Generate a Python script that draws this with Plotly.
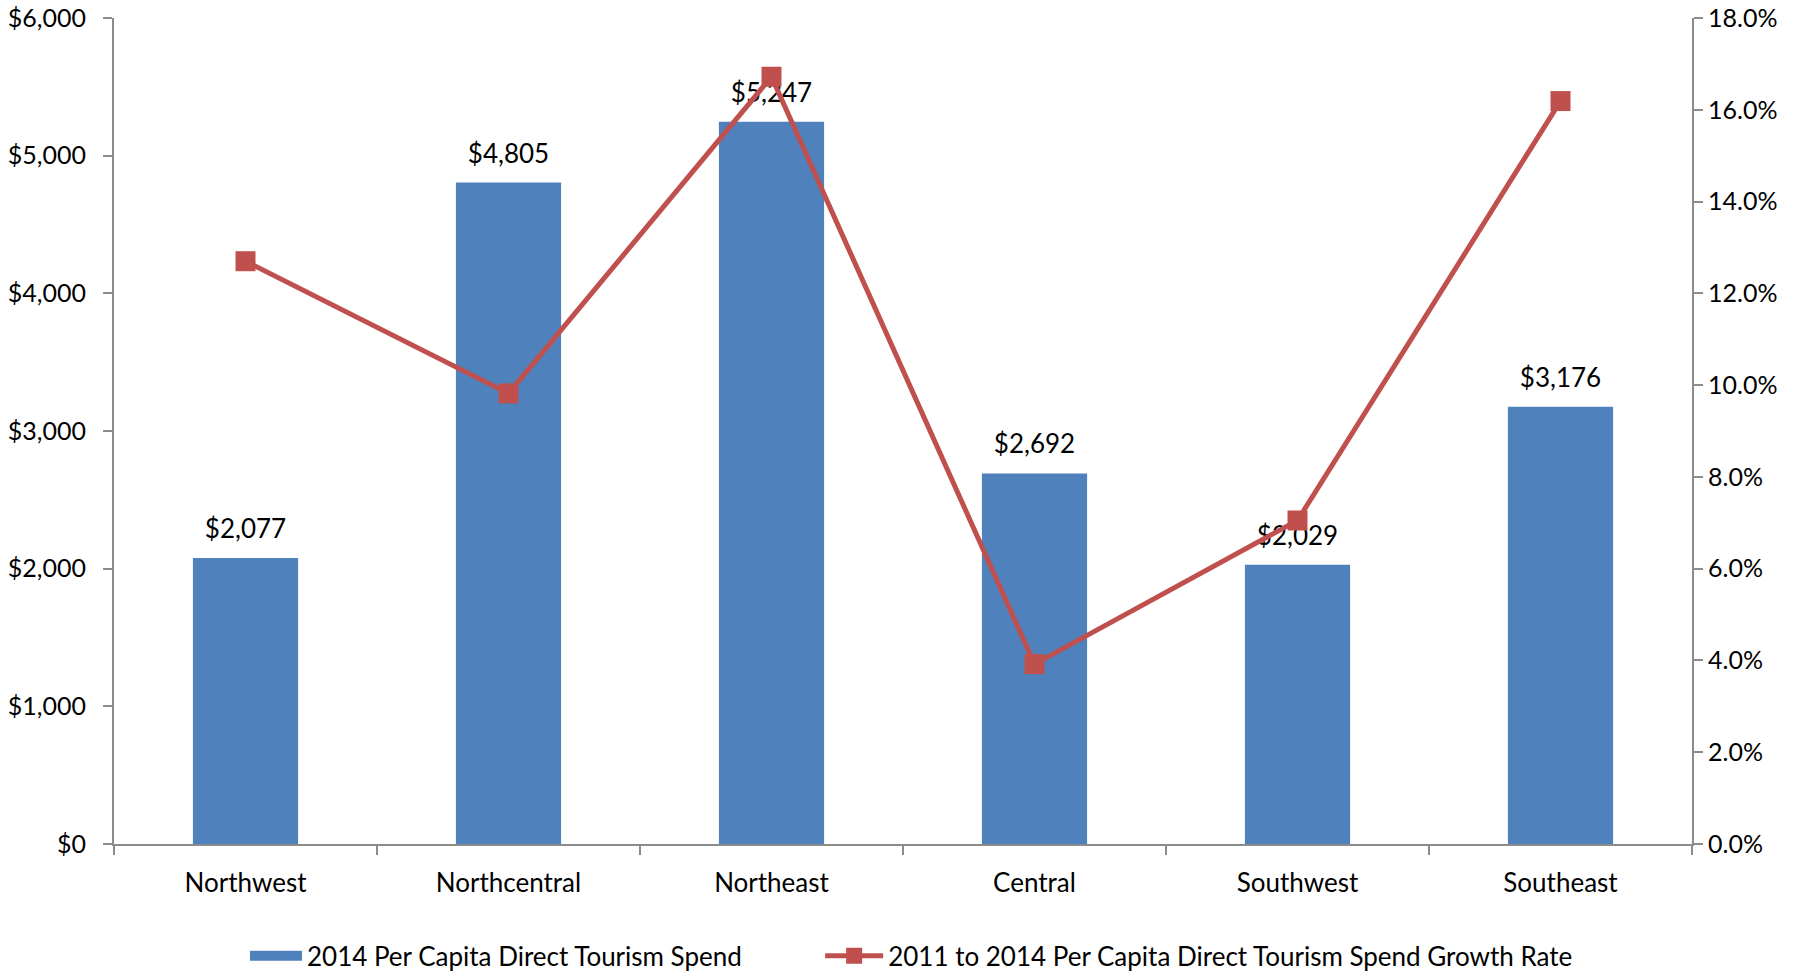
import plotly.graph_objects as go

regions = ["Northwest", "Northcentral", "Northeast", "Central", "Southwest", "Southeast"]
spend_2014 = [2077, 4805, 5247, 2692, 2029, 3176]
growth_rate = [0.127, 0.0982, 0.1672, 0.0392, 0.0705, 0.1619]
spend_labels = ["$2,077", "$4,805", "$5,247", "$2,692", "$2,029", "$3,176"]
left_ticks = [0, 1000, 2000, 3000, 4000, 5000, 6000]
left_tick_text = ["$0", "$1,000", "$2,000", "$3,000", "$4,000", "$5,000", "$6,000"]
right_ticks = [0, 0.02, 0.04, 0.06, 0.08, 0.10, 0.12, 0.14, 0.16, 0.18]
right_tick_text = ["0.0%", "2.0%", "4.0%", "6.0%", "8.0%", "10.0%", "12.0%", "14.0%", "16.0%", "18.0%"]
bar_name = "2014 Per Capita Direct Tourism Spend"
line_name = "2011 to 2014 Per Capita Direct Tourism Spend Growth Rate"

FONT = "Lato, Carlito, Calibri, Open Sans, sans-serif"
AXIS_COLOR = "#8c8c8c"
BLUE = "#4F81BD"
RED = "#C0504D"

fig = go.Figure()
fig.add_trace(go.Bar(
    x=regions, y=spend_2014,
    name=bar_name,
    marker=dict(color=BLUE, line=dict(width=0)),
    showlegend=False,
    yaxis="y",
))
# legend swatch for the bars (wide rectangle like the original)
fig.add_trace(go.Scatter(
    x=[None], y=[None], mode="lines",
    name=bar_name,
    line=dict(color=BLUE, width=18),
    legend="legend", hoverinfo="skip",
))
# data labels above the bars (invisible markers give the offset)
fig.add_trace(go.Scatter(
    x=regions, y=spend_2014,
    mode="markers+text",
    text=spend_labels, textposition="top center",
    textfont=dict(family=FONT, size=26, color="#000000"),
    marker=dict(size=20, opacity=0),
    showlegend=False, hoverinfo="skip",
    cliponaxis=False,
    yaxis="y",
))
fig.add_trace(go.Scatter(
    x=regions, y=growth_rate,
    name=line_name,
    mode="lines+markers",
    line=dict(color=RED, width=5),
    marker=dict(symbol="square", size=20, color=RED),
    cliponaxis=False,
    legend="legend2",
    yaxis="y2",
))

legend_common = dict(orientation="h", yref="container", yanchor="middle", y=0.0175,
                     xanchor="left",
                     font=dict(family=FONT, size=26, color="#000000"),
                     bgcolor="rgba(0,0,0,0)")

fig.update_layout(
    width=1806, height=973,
    paper_bgcolor="white", plot_bgcolor="white",
    margin=dict(l=114, r=114, t=18, b=129),
    font=dict(family=FONT, size=25, color="#000000"),
    bargap=0.6,
    showlegend=True,
    legend=dict(legend_common, x=0.083, itemwidth=52),
    legend2=dict(legend_common, x=0.4475, itemwidth=58),
    xaxis=dict(
        automargin=False,
        showline=True, linecolor=AXIS_COLOR, linewidth=2,
        ticks="outside", tickson="boundaries", ticklen=9, tickcolor=AXIS_COLOR, tickwidth=2,
        showgrid=False, tickfont=dict(family=FONT, size=26), ticklabelstandoff=15,
    ),
    yaxis=dict(
        automargin=False, ticklabeloverflow="allow",
        range=[0, 6000], tickvals=left_ticks, ticktext=left_tick_text,
        showline=True, linecolor=AXIS_COLOR, linewidth=2,
        ticks="outside", ticklen=9, tickcolor=AXIS_COLOR, tickwidth=2,
        showgrid=False, zeroline=False, tickfont=dict(family=FONT, size=25),
        ticklabelstandoff=12,
    ),
    yaxis2=dict(
        automargin=False, ticklabeloverflow="allow",
        range=[0, 0.18], tickvals=right_ticks, ticktext=right_tick_text,
        overlaying="y", side="right",
        showline=True, linecolor=AXIS_COLOR, linewidth=2,
        ticks="outside", ticklen=9, tickcolor=AXIS_COLOR, tickwidth=2,
        showgrid=False, zeroline=False, tickfont=dict(family=FONT, size=25),
        ticklabelstandoff=0,
    ),
)

fig.write_html("out.html", config={"displayModeBar": False},
               post_script="document.body.style.margin='0';")
